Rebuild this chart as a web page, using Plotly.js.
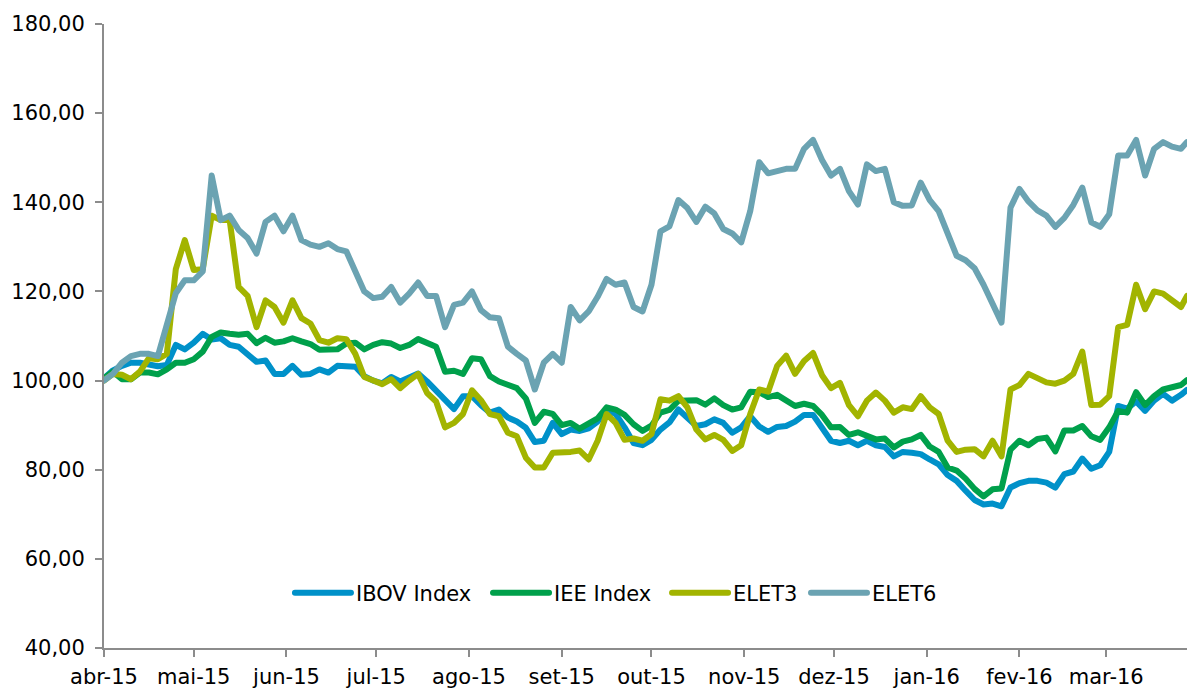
<!DOCTYPE html>
<html>
<head>
<meta charset="utf-8">
<script src="https://cdn.plot.ly/plotly-3.0.1.min.js"></script>
<style>
html,body{margin:0;padding:0;background:#fff;}
#chart{width:1187px;height:688px;}
.js-line{stroke-linejoin:round !important;stroke-linecap:round !important;}
</style>
</head>
<body>
<div id="chart"></div>
<script>
const dates = [
'2015-04-01','2015-04-04','2015-04-07','2015-04-10','2015-04-13','2015-04-16','2015-04-19','2015-04-22','2015-04-25','2015-04-28',
'2015-05-01','2015-05-04','2015-05-07','2015-05-10','2015-05-13','2015-05-16','2015-05-19','2015-05-22','2015-05-25','2015-05-28',
'2015-05-31','2015-06-03','2015-06-06','2015-06-09','2015-06-12','2015-06-15','2015-06-18','2015-06-21','2015-06-24','2015-06-27',
'2015-06-30','2015-07-03','2015-07-06','2015-07-09','2015-07-12','2015-07-15','2015-07-18','2015-07-21','2015-07-24','2015-07-27',
'2015-07-30','2015-08-02','2015-08-05','2015-08-08','2015-08-11','2015-08-14','2015-08-17','2015-08-20','2015-08-23','2015-08-26',
'2015-08-29','2015-09-01','2015-09-04','2015-09-07','2015-09-10','2015-09-13','2015-09-16','2015-09-19','2015-09-22','2015-09-25',
'2015-09-28','2015-10-01','2015-10-04','2015-10-07','2015-10-10','2015-10-13','2015-10-16','2015-10-19','2015-10-22','2015-10-25',
'2015-10-28','2015-10-31','2015-11-03','2015-11-06','2015-11-09','2015-11-12','2015-11-15','2015-11-18','2015-11-21','2015-11-24',
'2015-11-27','2015-11-30','2015-12-03','2015-12-06','2015-12-09','2015-12-12','2015-12-15','2015-12-18','2015-12-21','2015-12-24',
'2015-12-27','2015-12-30','2016-01-02','2016-01-05','2016-01-08','2016-01-11','2016-01-14','2016-01-17','2016-01-20','2016-01-23',
'2016-01-26','2016-01-29','2016-02-01','2016-02-04','2016-02-07','2016-02-10','2016-02-13','2016-02-16','2016-02-19','2016-02-22',
'2016-02-25','2016-02-28','2016-03-02','2016-03-05','2016-03-08','2016-03-11','2016-03-14','2016-03-17','2016-03-20','2016-03-23',
'2016-03-26','2016-03-28'];

const ibov = [100.5,102.3,103.3,104,104,103.7,103.2,103.5,108,107,
108.5,110.5,109.2,109.5,108,107.6,105.8,104.2,104.5,101.5,
101.5,103.3,101.3,101.5,102.5,101.8,103.3,103.3,103.1,101,
100,99.4,100.8,99.8,100.8,101.6,99.8,97.8,95.6,93.6,
96.5,96.5,94.5,92.8,93.5,91.7,90.8,89.4,86.2,86.5,
90.5,88,89,88.7,89.3,90.8,93.5,92.5,89.5,86,
85.5,86.7,89,90.6,93.5,91.5,89.8,90.2,91.3,90.5,
88.3,89.5,92,89.7,88.5,89.6,89.8,90.8,92.3,92.3,
89.2,86.5,86,86.5,85.5,86.5,85.5,85.1,83,84,
83.8,83.5,82.3,81.2,78.8,77.5,75.3,73.2,72.2,72.4,
71.8,76,77,77.5,77.5,77.1,76,79,79.6,82.5,
80.2,81,84,94.3,93.7,95.3,93.2,95.5,97,95.5,
96.8,97.9];

const iee = [100.5,102,100.3,100.3,101.8,101.8,101.4,102.5,104,104,
104.8,106.5,109.8,110.8,110.5,110.3,110.5,108.4,109.6,108.5,
108.8,109.5,108.8,108.2,106.9,106.9,107,108.3,108.5,107,
108,108.6,108.3,107.3,108,109.3,108.5,107.6,102,102.2,
101.5,105,104.8,101,99.8,99,98.3,96,90.5,93,
92.5,90,90.5,89.2,90.3,91.5,94,93.5,92.3,90.2,
88.7,89.9,92.8,93.4,95.5,95.6,95.6,94.6,96,94.5,
93.5,94,97.5,97.4,96.3,96.8,95.5,94.3,94.8,94.3,
92.3,89.5,89.6,87.8,88.4,87.5,86.8,87,85,86.3,
86.8,87.8,85.2,84,80.5,79.8,78,75.7,74,75.6,
75.8,84.5,86.5,85.5,86.9,87.2,84.1,88.8,88.8,89.8,
87.5,86.7,89.5,93.2,92.8,97.4,94.5,96.5,98,98.5,
99,100.1];

const elet3 = [100,101.5,101.3,100.3,102,105,104.8,106,125,131.5,
124.8,125,137,136,136,121,119,112,118,116.5,
113,118,114,112.8,109.1,108.5,109.5,109.3,106,100.8,
100,99.2,100.3,98.3,100,101.5,97.2,95.3,89.5,90.5,
92.5,97.8,95.6,92.5,92,88.3,87.5,82.7,80.5,80.5,
83.8,83.8,84,84.3,82.3,86.5,92.5,90.5,86.7,87,
86.5,88,95.8,95.5,96.5,94,89,86.8,87.8,86.7,
84.2,85.5,92.5,98,97.5,103.3,105.6,101.5,104.4,106.2,
101.2,98.3,99.5,94.5,92,95.5,97.3,95.5,92.8,94,
93.6,96.5,94,92.5,86.5,84,84.5,84.6,83,86.5,
83,98,99,101.5,100.5,99.6,99.3,100,101.5,106.5,
94.5,94.6,96.5,112,112.5,121.5,116,120,119.5,118,
116.5,119];

const elet6 = [100,101.5,104,105.5,106,106,105.5,113,119.6,122.5,
122.5,124.5,146,136,137,133.8,132,128.5,135.6,137,
133.5,137,131.5,130.5,130,130.8,129.5,129,124.5,120,
118.5,118.8,121,117.5,119.5,122,119,119,112,117,
117.5,120,115.8,114.2,114,107.6,106,104.5,98,104,
106,104,116.5,113.5,115.5,118.8,122.8,121.5,122,116.5,
115.5,121.5,133.5,134.6,140.5,138.7,135.6,139,137.5,134,
133,131,138,149,146.5,147,147.5,147.5,152,154,
149.5,146,147.5,142.5,139.5,148.5,147,147.5,140,139.2,
139.3,144.4,140.5,138,133,128,127,125.2,121.5,117.5,
113,138.8,143,140.2,138.2,137,134.5,136.5,139.4,143.3,
135.5,134.5,137.3,150.5,150.5,154,146,152,153.5,152.5,
152,153.5];

const seriesNames = ['IBOV Index','IEE Index','ELET3','ELET6'];
const seriesColors = ['#0091C9','#00A04B','#A2B400','#6BA3B2'];
const seriesValues = [ibov, iee, elet3, elet6];
const legendIds = ['legend','legend2','legend3','legend4'];

const monthTicks = ['2015-04-01','2015-05-01','2015-06-01','2015-07-01','2015-08-01','2015-09-01','2015-10-01','2015-11-01','2015-12-01','2016-01-01','2016-02-01','2016-03-01'];
const monthLabels = ['abr-15','mai-15','jun-15','jul-15','ago-15','set-15','out-15','nov-15','dez-15','jan-16','fev-16','mar-16'];
const yTicks = [40,60,80,100,120,140,160,180];

const traces = seriesNames.map((name, k) => ({
  x: dates, y: seriesValues[k], name: name, type: 'scatter', mode: 'lines',
  legend: legendIds[k],
  line: {color: seriesColors[k], width: 6}
}));

const font = {family: 'DejaVu Sans, Verdana, sans-serif', size: 21, color: '#000'};
const tickFont = {family: 'DejaVu Sans, Verdana, sans-serif', size: 21, color: '#000'};

function legendAt(xPos) {
  return {orientation: 'h', x: xPos, xanchor: 'left', y: 0.088, yanchor: 'middle',
          bgcolor: 'rgba(0,0,0,0)', font: font, itemwidth: 56};
}

const layout = {
  width: 1187, height: 688,
  margin: {l: 104, r: 0, t: 24, b: 40, pad: 0},
  paper_bgcolor: '#fff', plot_bgcolor: '#fff',
  separators: ',.',
  font: font,
  showlegend: true,
  legend: legendAt(0.1717),
  legend2: legendAt(0.3546),
  legend3: legendAt(0.5199),
  legend4: legendAt(0.6482),
  xaxis: {type: 'date', range: ['2015-04-01', '2016-03-28'],
          tickmode: 'array', tickvals: monthTicks, ticktext: monthLabels,
          showgrid: false, zeroline: false, showline: true, linecolor: '#8c8c8c', linewidth: 2,
          ticks: 'outside', ticklen: 7, tickwidth: 2, tickcolor: '#8c8c8c', tickfont: tickFont,
          ticklabelstandoff: 2},
  yaxis: {range: [40, 180], tickmode: 'array', tickvals: yTicks, tickformat: '.2f',
          showgrid: false, zeroline: false, showline: true, linecolor: '#8c8c8c', linewidth: 2,
          ticks: 'outside', ticklen: 7, tickwidth: 2, tickcolor: '#8c8c8c', tickfont: tickFont,
          ticklabelstandoff: 6}
};

Plotly.newPlot('chart', traces, layout, {displayModeBar: false, staticPlot: true});
</script>
</body>
</html>
